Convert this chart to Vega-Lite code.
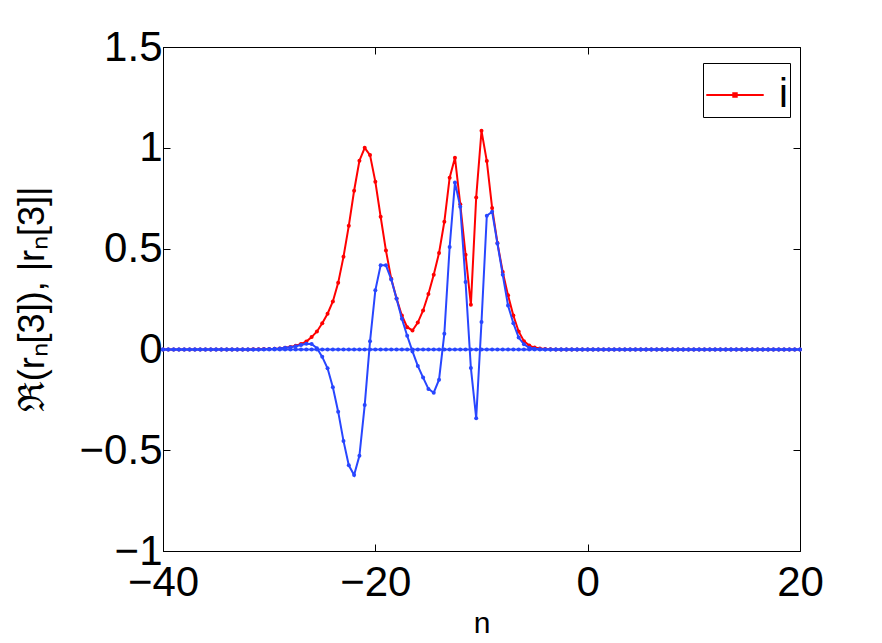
{
  "$schema": "https://vega.github.io/schema/vega-lite/v6.json",
  "width": 637,
  "height": 504,
  "autosize": {"type": "none"},
  "padding": {"left": 163, "top": 47, "right": 82, "bottom": 92},
  "background": "white",
  "config": {
    "view": {"stroke": "black", "strokeWidth": 1},
    "axis": {
      "grid": false,
      "labelFont": "Liberation Sans",
      "titleFont": "Liberation Sans",
      "labelFontSize": 42,
      "titleFontSize": 28,
      "labelColor": "black",
      "titleColor": "black",
      "tickColor": "black",
      "domainColor": "black",
      "tickSize": -7,
      "titleFontWeight": "normal"
    }
  },
  "data": {
    "values": [
      {"n": -40, "abs": 0, "re": 0, "im": 0},
      {"n": -39.5, "abs": 0, "re": 0, "im": 0},
      {"n": -39, "abs": 0, "re": 0, "im": 0},
      {"n": -38.5, "abs": 0, "re": 0, "im": 0},
      {"n": -38, "abs": 0, "re": 0, "im": 0},
      {"n": -37.5, "abs": 0, "re": 0, "im": 0},
      {"n": -37, "abs": 0, "re": 0, "im": 0},
      {"n": -36.5, "abs": 0, "re": 0, "im": 0},
      {"n": -36, "abs": 0, "re": 0, "im": 0},
      {"n": -35.5, "abs": 0, "re": 0, "im": 0},
      {"n": -35, "abs": 0, "re": 0, "im": 0},
      {"n": -34.5, "abs": 0, "re": 0, "im": 0},
      {"n": -34, "abs": 0, "re": 0, "im": 0},
      {"n": -33.5, "abs": 0, "re": 0, "im": 0},
      {"n": -33, "abs": 0, "re": 0, "im": 0},
      {"n": -32.5, "abs": 0, "re": 0, "im": 0},
      {"n": -32, "abs": 0, "re": 0, "im": 0},
      {"n": -31.5, "abs": 0.001, "re": 0, "im": 0},
      {"n": -31, "abs": 0.001, "re": 0, "im": 0},
      {"n": -30.5, "abs": 0.002, "re": 0.001, "im": 0},
      {"n": -30, "abs": 0.002, "re": 0.002, "im": 0},
      {"n": -29.5, "abs": 0.003, "re": 0.003, "im": 0},
      {"n": -29, "abs": 0.005, "re": 0.005, "im": 0},
      {"n": -28.5, "abs": 0.008, "re": 0.008, "im": 0},
      {"n": -28, "abs": 0.012, "re": 0.011, "im": 0},
      {"n": -27.5, "abs": 0.018, "re": 0.016, "im": 0},
      {"n": -27, "abs": 0.027, "re": 0.022, "im": 0},
      {"n": -26.5, "abs": 0.039, "re": 0.028, "im": 0},
      {"n": -26, "abs": 0.061, "re": 0.027, "im": 0},
      {"n": -25.5, "abs": 0.089, "re": 0.006, "im": 0},
      {"n": -25, "abs": 0.13, "re": -0.037, "im": 0},
      {"n": -24.5, "abs": 0.177, "re": -0.094, "im": 0},
      {"n": -24, "abs": 0.238, "re": -0.188, "im": 0},
      {"n": -23.5, "abs": 0.33, "re": -0.309, "im": 0},
      {"n": -23, "abs": 0.459, "re": -0.454, "im": 0},
      {"n": -22.5, "abs": 0.613, "re": -0.575, "im": 0},
      {"n": -22, "abs": 0.787, "re": -0.623, "im": 0},
      {"n": -21.5, "abs": 0.936, "re": -0.528, "im": 0},
      {"n": -21, "abs": 1.0, "re": -0.276, "im": 0},
      {"n": -20.5, "abs": 0.964, "re": 0.04, "im": 0},
      {"n": -20, "abs": 0.832, "re": 0.293, "im": 0},
      {"n": -19.5, "abs": 0.658, "re": 0.417, "im": 0},
      {"n": -19, "abs": 0.49, "re": 0.417, "im": 0},
      {"n": -18.5, "abs": 0.35, "re": 0.347, "im": 0},
      {"n": -18, "abs": 0.252, "re": 0.251, "im": 0},
      {"n": -17.5, "abs": 0.168, "re": 0.152, "im": 0},
      {"n": -17, "abs": 0.11, "re": 0.068, "im": 0},
      {"n": -16.5, "abs": 0.094, "re": -0.01, "im": 0},
      {"n": -16, "abs": 0.133, "re": -0.082, "im": 0},
      {"n": -15.5, "abs": 0.193, "re": -0.14, "im": 0},
      {"n": -15, "abs": 0.275, "re": -0.196, "im": 0},
      {"n": -14.5, "abs": 0.37, "re": -0.215, "im": 0},
      {"n": -14, "abs": 0.478, "re": -0.15, "im": 0},
      {"n": -13.5, "abs": 0.633, "re": 0.078, "im": 0},
      {"n": -13, "abs": 0.852, "re": 0.508, "im": 0},
      {"n": -12.5, "abs": 0.951, "re": 0.828, "im": 0},
      {"n": -12, "abs": 0.72, "re": 0.707, "im": 0},
      {"n": -11.5, "abs": 0.47, "re": 0.334, "im": 0},
      {"n": -11, "abs": 0.221, "re": -0.092, "im": 0},
      {"n": -10.5, "abs": 0.754, "re": -0.341, "im": 0},
      {"n": -10, "abs": 1.084, "re": 0.136, "im": 0},
      {"n": -9.5, "abs": 0.934, "re": 0.663, "im": 0},
      {"n": -9, "abs": 0.702, "re": 0.683, "im": 0},
      {"n": -8.5, "abs": 0.528, "re": 0.525, "im": 0},
      {"n": -8, "abs": 0.384, "re": 0.37, "im": 0},
      {"n": -7.5, "abs": 0.268, "re": 0.218, "im": 0},
      {"n": -7, "abs": 0.168, "re": 0.13, "im": 0},
      {"n": -6.5, "abs": 0.089, "re": 0.059, "im": 0},
      {"n": -6, "abs": 0.041, "re": 0.025, "im": 0},
      {"n": -5.5, "abs": 0.019, "re": 0.008, "im": 0},
      {"n": -5, "abs": 0.009, "re": 0.003, "im": 0},
      {"n": -4.5, "abs": 0.004, "re": 0.001, "im": 0},
      {"n": -4, "abs": 0.002, "re": 0, "im": 0},
      {"n": -3.5, "abs": 0.001, "re": 0, "im": 0},
      {"n": -3, "abs": 0, "re": 0, "im": 0},
      {"n": -2.5, "abs": 0, "re": 0, "im": 0},
      {"n": -2, "abs": 0, "re": 0, "im": 0},
      {"n": -1.5, "abs": 0, "re": 0, "im": 0},
      {"n": -1, "abs": 0, "re": 0, "im": 0},
      {"n": -0.5, "abs": 0, "re": 0, "im": 0},
      {"n": 0, "abs": 0, "re": 0, "im": 0},
      {"n": 0.5, "abs": 0, "re": 0, "im": 0},
      {"n": 1, "abs": 0, "re": 0, "im": 0},
      {"n": 1.5, "abs": 0, "re": 0, "im": 0},
      {"n": 2, "abs": 0, "re": 0, "im": 0},
      {"n": 2.5, "abs": 0, "re": 0, "im": 0},
      {"n": 3, "abs": 0, "re": 0, "im": 0},
      {"n": 3.5, "abs": 0, "re": 0, "im": 0},
      {"n": 4, "abs": 0, "re": 0, "im": 0},
      {"n": 4.5, "abs": 0, "re": 0, "im": 0},
      {"n": 5, "abs": 0, "re": 0, "im": 0},
      {"n": 5.5, "abs": 0, "re": 0, "im": 0},
      {"n": 6, "abs": 0, "re": 0, "im": 0},
      {"n": 6.5, "abs": 0, "re": 0, "im": 0},
      {"n": 7, "abs": 0, "re": 0, "im": 0},
      {"n": 7.5, "abs": 0, "re": 0, "im": 0},
      {"n": 8, "abs": 0, "re": 0, "im": 0},
      {"n": 8.5, "abs": 0, "re": 0, "im": 0},
      {"n": 9, "abs": 0, "re": 0, "im": 0},
      {"n": 9.5, "abs": 0, "re": 0, "im": 0},
      {"n": 10, "abs": 0, "re": 0, "im": 0},
      {"n": 10.5, "abs": 0, "re": 0, "im": 0},
      {"n": 11, "abs": 0, "re": 0, "im": 0},
      {"n": 11.5, "abs": 0, "re": 0, "im": 0},
      {"n": 12, "abs": 0, "re": 0, "im": 0},
      {"n": 12.5, "abs": 0, "re": 0, "im": 0},
      {"n": 13, "abs": 0, "re": 0, "im": 0},
      {"n": 13.5, "abs": 0, "re": 0, "im": 0},
      {"n": 14, "abs": 0, "re": 0, "im": 0},
      {"n": 14.5, "abs": 0, "re": 0, "im": 0},
      {"n": 15, "abs": 0, "re": 0, "im": 0},
      {"n": 15.5, "abs": 0, "re": 0, "im": 0},
      {"n": 16, "abs": 0, "re": 0, "im": 0},
      {"n": 16.5, "abs": 0, "re": 0, "im": 0},
      {"n": 17, "abs": 0, "re": 0, "im": 0},
      {"n": 17.5, "abs": 0, "re": 0, "im": 0},
      {"n": 18, "abs": 0, "re": 0, "im": 0},
      {"n": 18.5, "abs": 0, "re": 0, "im": 0},
      {"n": 19, "abs": 0, "re": 0, "im": 0},
      {"n": 19.5, "abs": 0, "re": 0, "im": 0},
      {"n": 20, "abs": 0, "re": 0, "im": 0}
    ]
  },
  "layer": [
    {
      "mark": {"type": "line", "strokeWidth": 2, "point": {"filled": true, "size": 16}},
      "encoding": {
        "x": {"field": "n", "type": "quantitative", "scale": {"domain": [-40, 20], "nice": false, "zero": false},
              "axis": {"values": [-40, -20, 0, 20], "format": "d", "title": "n", "titleFontSize": 30, "labelPadding": 18, "titlePadding": 5, "labelFlush": false}},
        "y": {"field": "abs", "type": "quantitative", "scale": {"domain": [-1, 1.5], "nice": false},
              "axis": {"values": [-1, -0.5, 0, 0.5, 1, 1.5], "format": "~g", "title": "ℜ(rₙ[3]), |rₙ[3]|", "titleFontSize": 36, "labelPadding": 8, "titlePadding": 28, "labelFlush": false}},
        "color": {"datum": "i", "type": "nominal", "scale": {"range": ["#ff0000"]},
                  "legend": {"title": null, "orient": "none", "legendX": 540, "legendY": 16,
                             "symbolType": "M-1,0H1M-0.06,-0.06h0.12v0.12h-0.12z", "symbolSize": 3300, "symbolStrokeWidth": 2,
                             "labelFontSize": 40, "labelFont": "Liberation Sans", "labelColor": "black",
                             "strokeColor": "black", "fillColor": "white", "padding": 2, "labelOffset": 14}}
      }
    },
    {
      "mark": {"type": "line", "strokeWidth": 2, "color": "#2846ff", "point": {"filled": true, "size": 16, "color": "#2846ff"}},
      "encoding": {
        "x": {"field": "n", "type": "quantitative", "axis": null},
        "y": {"field": "re", "type": "quantitative", "axis": null}
      }
    },
    {
      "mark": {"type": "line", "strokeWidth": 2, "color": "#2846ff", "point": {"filled": true, "size": 16, "color": "#2846ff"}},
      "encoding": {
        "x": {"field": "n", "type": "quantitative", "axis": null},
        "y": {"field": "im", "type": "quantitative", "axis": null}
      }
    },
    {
      "mark": {"type": "line", "opacity": 0},
      "encoding": {
        "x": {"field": "n", "type": "quantitative", "axis": {"orient": "top", "values": [-40, -20, 0, 20], "labels": false, "title": null, "domain": false}},
        "y": {"field": "im", "type": "quantitative", "axis": {"orient": "right", "values": [-1, -0.5, 0, 0.5, 1, 1.5], "labels": false, "title": null, "domain": false}}
      }
    }
  ],
  "resolve": {"axis": {"x": "independent", "y": "independent"}}
}
